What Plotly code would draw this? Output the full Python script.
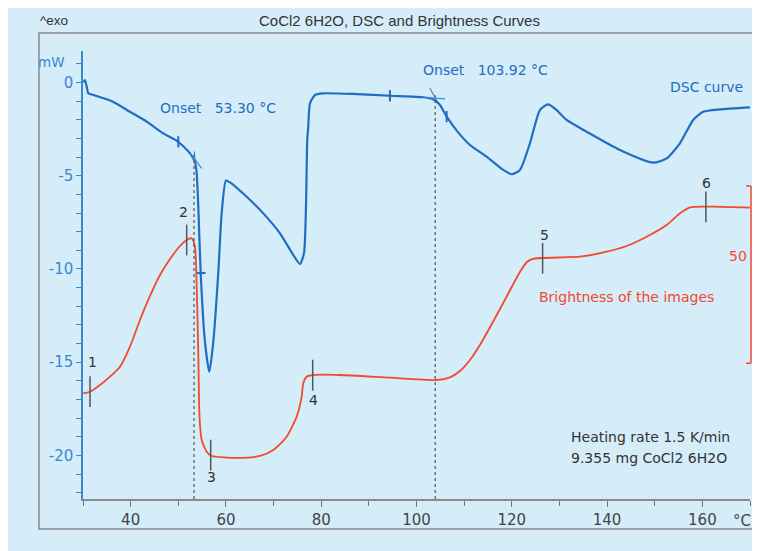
import numpy as np
import plotly.graph_objects as go

# ---------------- data ----------------
dsc_temp = [30.1, 30.42, 30.84, 31.11, 32.16, 36.30, 39.86, 43.37, 46.85, 50.0, 52.46, 53.50,
            53.86, 54.20, 54.70, 55.60, 56.51, 57.35, 58.39, 59.11, 60.01, 60.85, 64.35, 67.84,
            71.34, 74.13, 75.54, 76.38, 76.80, 77.07, 77.28, 77.64, 78.69, 80.37, 87.44, 94.43,
            101.42, 103.52, 104.92, 106.33, 108.7, 111.22, 114.72, 118.21, 119.97, 121.71,
            123.81, 125.91, 127.65, 129.41, 131.51, 135.71, 142.70, 149.69, 152.50, 155.29,
            158.08, 160.18, 163.68, 169.98]
dsc_mw = [0.0, 0.13, -0.30, -0.58, -0.67, -1.03, -1.57, -2.10, -2.73, -3.18, -3.80, -4.25,
          -4.87, -6.66, -10.22, -13.92, -15.51, -13.92, -10.22, -7.0, -5.26, -5.36, -6.13, -7.02,
          -8.09, -9.25, -9.74, -9.16, -6.66, -3.08, -2.37, -1.12, -0.67, -0.58, -0.62, -0.71,
          -0.79, -0.90, -1.21, -1.83, -2.66, -3.35, -3.98, -4.69, -4.92, -4.69,
          -3.26, -1.48, -1.17, -1.48, -2.01, -2.64, -3.62, -4.30, -4.07, -3.26,
          -2.01, -1.57, -1.44, -1.33]

bright_temp = [30.06, 31.47, 33.57, 35.67, 37.77, 39.86, 41.96, 44.06, 46.16, 48.26, 50.36,
               51.76, 52.81, 53.50, 53.86, 54.20, 54.45, 54.91, 55.96, 57.01, 59.44, 64.35,
               67.15, 69.94, 72.75, 74.85, 75.90, 76.23, 76.95, 78.33, 83.93, 94.43, 104.23,
               107.02, 109.12, 111.22, 113.31, 116.04, 118.98, 121.71, 123.18, 124.44, 130.80,
               134.30, 139.91, 144.10, 148.30, 152.50, 155.30, 157.40, 162.28, 169.98]
bright_val = [-8.46, -8.01, -6.12, -3.78, -0.96, 4.68, 12.21, 18.98, 24.89, 29.40, 33.07,
              34.76, 35.24, 32.87, 21.60, 2.82, -15.0, -21.62, -24.92, -26.13, -26.50, -26.61,
              -26.13, -24.44, -20.69, -15.05, -9.42, -5.64, -3.78, -3.30, -3.30, -4.06, -4.71,
              -3.95, -2.16, 0.93, 5.17, 11.64, 18.97, 25.74, 28.56, 29.47, 29.88,
              30.05, 31.46, 33.07, 35.69, 38.99, 42.29, 43.98, 44.15, 43.87]

point_labels = ["1", "2", "3", "4", "5", "6"]
point_temp = [31.47, 51.76, 56.80, 78.21, 126.47, 160.74]

onset_temp = [53.30, 103.92]
onset_labels = ["Onset   53.30 °C", "Onset   103.92 °C"]
# onset construction tangents
tan1_t = [52.46, 54.91]; tan1_mw = [-3.78, -4.60]
tan2_t = [53.38, 53.52]; tan2_mw = [-3.7, -4.35]
tan3_t = [101.3, 106.0]; tan3_mw = [-0.79, -0.88]
tan4_t = [102.8, 104.2]; tan4_mw = [-0.31, -0.94]
limit_temp = [50.0, 94.43, 106.33]
limit_mw = [-3.18, -0.71, -1.83]

x_ticks = [40, 60, 80, 100, 120, 140, 160]
y_ticks = [0, -5, -10, -15, -20]
y_ticktext = ["0", "-5", "-10", "-15", "-20"]
scale_bar = [0, 50]

# ---------------- style ----------------
BG = "#d5ecf9"
BLUE = "#1f6ec3"
AXBLUE = "#3b87d2"
RED = "#f14a2c"
GREY = "#444444"
FONT = "DejaVu Sans"

fig = go.Figure()

fig.add_trace(go.Scatter(x=dsc_temp, y=dsc_mw, mode="lines",
                         line=dict(color=BLUE, width=2.2, shape="spline", smoothing=0.6),
                         hoverinfo="skip", showlegend=False))
for tt, mm in [(tan1_t, tan1_mw), (tan2_t, tan2_mw), (tan3_t, tan3_mw), (tan4_t, tan4_mw)]:
    fig.add_trace(go.Scatter(x=tt, y=mm, mode="lines", line=dict(color=AXBLUE, width=1.2),
                             hoverinfo="skip", showlegend=False))
fig.add_trace(go.Scatter(x=limit_temp, y=limit_mw, mode="markers",
                         marker=dict(symbol="line-ns", size=8, line=dict(color=BLUE, width=2)),
                         hoverinfo="skip", showlegend=False))
fig.add_trace(go.Scatter(x=[54.7], y=[-10.22], mode="markers",
                         marker=dict(symbol="line-ew", size=7, line=dict(color=BLUE, width=2)),
                         hoverinfo="skip", showlegend=False))

fig.add_trace(go.Scatter(x=bright_temp, y=bright_val, mode="lines", yaxis="y2",
                         line=dict(color=RED, width=1.8, shape="spline", smoothing=0.6),
                         hoverinfo="skip", showlegend=False))
point_b = np.interp(point_temp, bright_temp, bright_val)
fig.add_trace(go.Scatter(x=point_temp, y=point_b, mode="markers", yaxis="y2",
                         marker=dict(symbol="line-ns", size=22, line=dict(color="#555555", width=1.5)),
                         hoverinfo="skip", showlegend=False))

ann = []
shifts = [(2, 30), (-3, 28), (1, -22), (1, -25), (2, 23), (1, 24)]
for lab, t, b, (dx, dy) in zip(point_labels, point_temp, point_b, shifts):
    ann.append(dict(x=t, y=b, xref="x", yref="y2", text=lab, showarrow=False,
                    xshift=dx, yshift=dy, xanchor="center", yanchor="middle",
                    font=dict(family=FONT, size=14, color="#333333")))


def note(x, y, text, ref, anchor, size, color, family=FONT):
    return dict(x=x, y=y, xref=ref[0], yref=ref[1], text=text, xanchor=anchor,
                yanchor="middle", showarrow=False,
                font=dict(family=family, size=size, color=color))


DATA = ("x", "y")
PAPER = ("paper", "paper")
ann += [
    note(45.74, -1.37, onset_labels[0], DATA, "left", 14, BLUE),
    note(100.93, 0.67, onset_labels[1], DATA, "left", 14, BLUE),
    note(152.77, -0.24, "DSC curve", DATA, "left", 14, BLUE),
    note(125.28, -11.53, "Brightness of the images", DATA, "left", 14, RED),
    note(165.15, -9.31, "50", DATA, "left", 14, RED),
    note(132.0, -19.0, "Heating rate 1.5 K/min", DATA, "left", 14, "#333333"),
    note(132.0, -20.13, "9.355 mg CoCl2 6H2O", DATA, "left", 14, "#333333"),
    note(-0.0675, 1.069, "^exo", PAPER, "left", 13.5, "#333333", "Liberation Sans"),
    note(0.4745, 1.069, "CoCl2 6H2O, DSC and Brightness Curves", PAPER, "center", 15,
         "#333333", "Liberation Sans"),
    note(-0.0245, 0.975, "mW", PAPER, "right", 13.5, AXBLUE),
    note(0.9715, -0.049, "°C", PAPER, "left", 15, GREY),
]

shapes = [
    # outer frame
    dict(type="rect", xref="paper", yref="paper", x0=-0.066, x1=1.03, y0=-0.067, y1=1.040,
         line=dict(color="#8a8a8a", width=1.5), layer="below"),
]
onset_mw = np.interp(onset_temp, dsc_temp, dsc_mw)
for t, m in zip(onset_temp, onset_mw):
    shapes.append(dict(type="line", xref="x", yref="y", x0=t, x1=t, y0=-22.34, y1=m + 0.3,
                       line=dict(color="#555555", width=1.2, dash="dot")))
# scale bracket for brightness
bx = 1.0015
shapes += [
    dict(type="line", xref="paper", yref="y2", x0=bx, x1=bx, y0=scale_bar[0], y1=scale_bar[1],
         line=dict(color=RED, width=1.5)),
    dict(type="line", xref="paper", yref="y2", x0=0.994, x1=bx, y0=scale_bar[0], y1=scale_bar[0],
         line=dict(color=RED, width=1.5)),
    dict(type="line", xref="paper", yref="y2", x0=0.994, x1=bx, y0=scale_bar[1], y1=scale_bar[1],
         line=dict(color=RED, width=1.5)),
]

fig.update_layout(
    width=752, height=543,
    margin=dict(l=75, r=10, t=43, b=52),
    paper_bgcolor=BG, plot_bgcolor=BG,
    annotations=ann, shapes=shapes, showlegend=False,
    xaxis=dict(range=[30, 170], tickvals=x_ticks, showgrid=False, zeroline=False,
               showline=True, linecolor="#8a8a8a", linewidth=1.5,
               ticks="outside", ticklen=6, tickcolor="#777777", tickwidth=1.2,
               minor=dict(tick0=30, dtick=10, ticks="outside", ticklen=5, tickcolor="#777777"),
               tickfont=dict(family=FONT, size=15, color=GREY)),
    yaxis=dict(range=[-22.34, 1.69], tickvals=y_ticks, ticktext=y_ticktext,
               showgrid=False, zeroline=False,
               showline=True, linecolor=AXBLUE, linewidth=1.5,
               ticks="outside", ticklen=5, tickcolor=AXBLUE, tickwidth=1.2,
               minor=dict(tick0=0, dtick=1, ticks="outside", ticklen=5, tickcolor=AXBLUE),
               tickfont=dict(family=FONT, size=15, color=AXBLUE)),
    yaxis2=dict(range=[-38.26, 88.05], overlaying="y", visible=False),
)

fig.write_html("out.html")
